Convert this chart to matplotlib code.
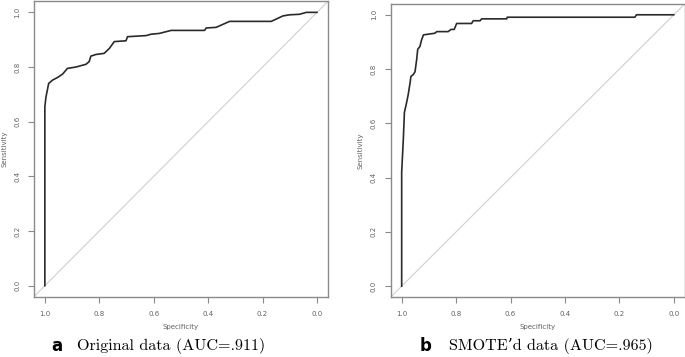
import matplotlib
matplotlib.use("Agg")
import matplotlib.pyplot as plt

# Panel a: original data ROC (specificity, sensitivity)
spec_a = [1.0, 1.0, 0.996, 0.986, 0.972, 0.953, 0.935, 0.917, 0.886, 0.849, 0.837, 0.831,
          0.812, 0.782, 0.763, 0.745, 0.702, 0.696, 0.628, 0.61, 0.579, 0.536, 0.413, 0.407,
          0.371, 0.321, 0.168, 0.125, 0.101, 0.064, 0.039, 0.0]
sens_a = [0.0, 0.655, 0.69, 0.74, 0.752, 0.762, 0.774, 0.795, 0.80, 0.81, 0.82, 0.84,
          0.846, 0.85, 0.868, 0.893, 0.896, 0.911, 0.915, 0.92, 0.923, 0.934, 0.934, 0.943,
          0.945, 0.967, 0.967, 0.987, 0.991, 0.993, 1.0, 1.0]

# Panel b: SMOTE'd data ROC
spec_b = [1.0, 1.0, 0.994, 0.990, 0.982, 0.976, 0.969, 0.966, 0.957, 0.951, 0.945, 0.941,
          0.933, 0.927, 0.920, 0.878, 0.871, 0.829, 0.819, 0.807, 0.798, 0.743, 0.737,
          0.712, 0.706, 0.614, 0.612, 0.143, 0.137, 0.0]
sens_b = [0.0, 0.42, 0.54, 0.64, 0.676, 0.706, 0.75, 0.773, 0.78, 0.79, 0.834, 0.873,
          0.883, 0.907, 0.926, 0.932, 0.938, 0.938, 0.946, 0.946, 0.968, 0.968, 0.978,
          0.978, 0.985, 0.985, 0.991, 0.991, 1.0, 1.0]

ticks = [1.0, 0.8, 0.6, 0.4, 0.2, 0.0]
tick_labels = ["1.0", "0.8", "0.6", "0.4", "0.2", "0.0"]
panel_letters = ["a", "b"]
captions = ["Original data (AUC=.911)", "SMOTE\u2019d data (AUC=.965)"]

fig = plt.figure(figsize=(6.85, 3.57), dpi=100)
positions = [[0.0496, 0.169, 0.429, 0.827], [0.5705, 0.168, 0.429, 0.821]]
caption_x = [(51 / 685, 77 / 685), (420 / 685, 449 / 685)]
gray = "#8a8a8a"
txtgray = "#606060"

for i, (sx, sy) in enumerate([(spec_a, sens_a), (spec_b, sens_b)]):
    ax = fig.add_axes(positions[i])
    ax.axline((1, 0), (0, 1), color="#d0d0d0", lw=0.8, zorder=1)
    ax.plot(sx, sy, color="#2a2a2a", lw=1.2, zorder=2)
    ax.set_xlim(1.04, -0.04)
    ax.set_ylim(-0.04, 1.04)
    ax.set_xticks(ticks)
    ax.set_xticklabels(tick_labels, fontsize=5, color=txtgray)
    ax.set_yticks(ticks)
    ax.set_yticklabels(tick_labels, fontsize=5, color=txtgray, rotation=90, va="center")
    ax.tick_params(axis="both", color=gray, length=4, width=0.8, pad=6)
    for sp in ax.spines.values():
        sp.set_color(gray)
        sp.set_linewidth(1.0)
    ax.set_xlabel("Specificity", fontsize=5, color=txtgray, labelpad=5)
    ax.set_ylabel("Sensitivity", fontsize=5, color=txtgray, labelpad=5)
    lx, cx = caption_x[i]
    fig.text(lx, 1 - 346 / 357, panel_letters[i], fontsize=12, fontweight="bold",
             family="DejaVu Sans", va="center", ha="left")
    fig.text(cx, 1 - 346 / 357, captions[i], fontsize=11.6, family=["cmr10", "DejaVu Serif"],
             va="center", ha="left")

fig.savefig("out.png", dpi=100)
